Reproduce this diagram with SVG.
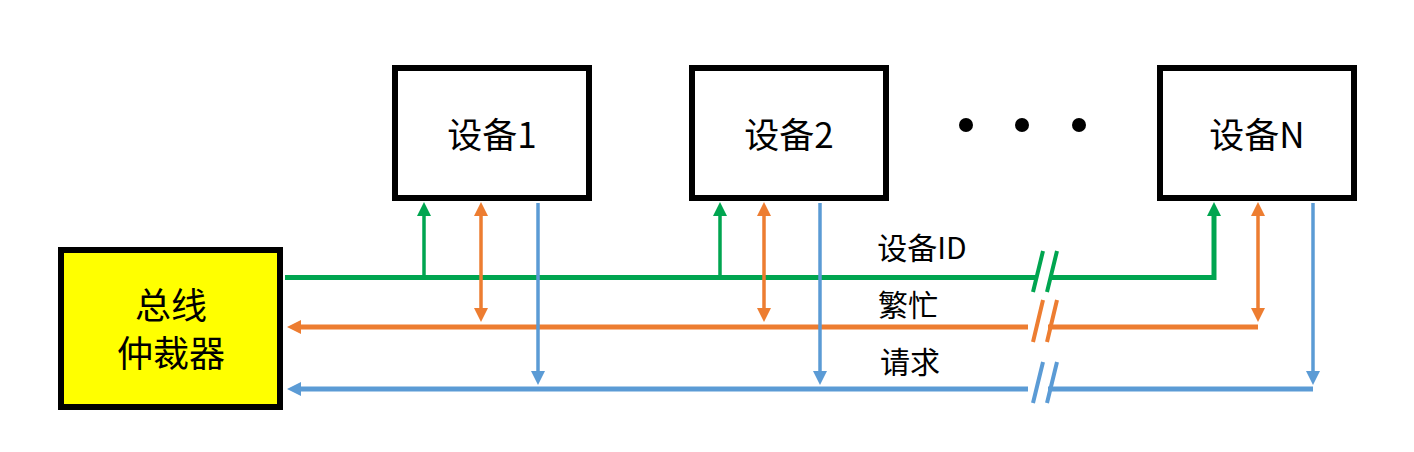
<svg xmlns="http://www.w3.org/2000/svg" width="1414" height="452" viewBox="0 0 1414 452">
<style>
.box{fill:#fff;stroke:#000;stroke-width:6}
.arb{fill:#ffff00;stroke:#000;stroke-width:6}
.t{font-family:"Microsoft YaHei","Noto Sans CJK SC",sans-serif;fill:#000;text-anchor:middle}
.dev{font-size:35px}
.lbl{font-size:30px}
.g{stroke:#00a550;fill:none}
.o{stroke:#ed7d31;fill:none}
.b{stroke:#5b9bd5;fill:none}
.bus{stroke-width:5}
.stem{stroke-width:3.5}
.brk{stroke-width:4}
</style>
<defs>
<marker id="ag" markerUnits="userSpaceOnUse" markerWidth="14" markerHeight="14" refX="0" refY="7" orient="auto" viewBox="0 0 14 14"><path d="M0,0 L14,7 L0,14 z" fill="#00a550"/></marker>
<marker id="ao" markerUnits="userSpaceOnUse" markerWidth="14" markerHeight="14" refX="0" refY="7" orient="auto-start-reverse" viewBox="0 0 14 14"><path d="M0,0 L14,7 L0,14 z" fill="#ed7d31"/></marker>
<marker id="ab" markerUnits="userSpaceOnUse" markerWidth="14" markerHeight="14" refX="0" refY="7" orient="auto" viewBox="0 0 14 14"><path d="M0,0 L14,7 L0,14 z" fill="#5b9bd5"/></marker>
</defs>

<g id="arbiter">
<rect class="arb" x="61" y="250" width="219" height="157"/>
<text class="t" x="171" y="319" font-size="36">总线</text>
<text class="t" x="171" y="367" font-size="36">仲裁器</text>
</g>
<g id="device1">
<rect class="box" x="395" y="68" width="194" height="130"/>
<text class="t dev" x="492" y="148">设备1</text>
</g>
<g id="device2">
<rect class="box" x="692" y="68" width="194" height="130"/>
<text class="t dev" x="789" y="148">设备2</text>
</g>
<g id="ellipsis">
<circle cx="966" cy="125" r="7" fill="#000"/>
<circle cx="1022" cy="125" r="7" fill="#000"/>
<circle cx="1079" cy="125" r="7" fill="#000"/>
</g>
<g id="deviceN">
<rect class="box" x="1160" y="68" width="194" height="130"/>
<text class="t dev" x="1257" y="148">设备N</text>
</g>

<g id="connectors">
<!-- green: device ID bus -->
<path class="g bus" d="M285,277.5 H1038"/>
<path class="g bus" d="M1050,277.5 H1214 V216" marker-end="url(#ag)"/>
<path class="g stem" d="M424,277 V216" marker-end="url(#ag)"/>
<path class="g stem" d="M720,277 V216" marker-end="url(#ag)"/>
<path class="g brk" d="M1033,292 L1043,251 M1047,292 L1057,251"/>
<!-- orange: busy -->
<path class="o bus" d="M1028,327 H301" marker-end="url(#ao)"/>
<path class="o bus" d="M1048,327 H1258"/>
<path class="o stem" d="M481,216 V308" marker-start="url(#ao)" marker-end="url(#ao)"/>
<path class="o stem" d="M764,216 V308" marker-start="url(#ao)" marker-end="url(#ao)"/>
<path class="o stem" d="M1258,216 V308" marker-start="url(#ao)" marker-end="url(#ao)"/>
<path class="o brk" d="M1033,342 L1043,300 M1047,342 L1057,300"/>
<!-- blue: request -->
<path class="b bus" d="M1028,389 H301" marker-end="url(#ab)"/>
<path class="b bus" d="M1048,389 H1313"/>
<path class="b stem" d="M538,203 V371" marker-end="url(#ab)"/>
<path class="b stem" d="M820,203 V371" marker-end="url(#ab)"/>
<path class="b stem" d="M1313,203 V371" marker-end="url(#ab)"/>
<path class="b brk" d="M1033,403 L1043,362 M1047,403 L1057,362"/>
<text class="t lbl" x="922" y="259">设备ID</text>
<text class="t lbl" x="908" y="316">繁忙</text>
<text class="t lbl" x="910" y="373">请求</text>
</g>
</svg>
